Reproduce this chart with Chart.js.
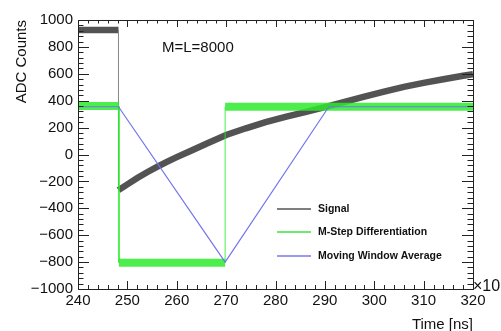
<!DOCTYPE html>
<html>
<head>
<meta charset="utf-8">
<script src="https://cdn.jsdelivr.net/npm/chart.js@4.4.1/dist/chart.umd.min.js"></script>
<style>
  html, body { margin: 0; padding: 0; background: #fff; }
  #wrap { width: 501px; height: 331px; }
</style>
</head>
<body>
<div id="wrap"><canvas id="chart" width="501" height="331"></canvas></div>
<script>
// time axis in units of 10^3 ns
const signalTime = [240, 248.2, 248.2, 250, 252, 254, 256, 258, 260, 263, 266, 270, 274, 278, 282, 286, 290, 294, 298, 302, 306, 310, 314, 318, 320];
const signalAdc  = [925, 925, -265, -222, -175, -132, -92, -55, -20, 30, 80, 145, 195, 240, 280, 315, 352, 392, 430, 468, 503, 533, 560, 585, 597];

const diffTime = [240, 248.3, 248.3, 269.8, 269.8, 320];
const diffAdc  = [360, 360, -805, -805, 355, 355];

const mwaTime = [240, 248.2, 269.8, 290.8, 320];
const mwaAdc  = [355, 355, -800, 355, 355];

const xTicks = [240, 250, 260, 270, 280, 290, 300, 310, 320];
const yTicks = [-1000, -800, -600, -400, -200, 0, 200, 400, 600, 800, 1000];

const FONT = "'Liberation Sans', Arial, Helvetica, sans-serif";

function pts(xs, ys) {
  return xs.map((x, i) => ({ x, y: ys[i] }));
}

// vertical jumps are thin, the noisy plateaus are wide bands
function bandWidth(wide) {
  return ctx => (ctx.p0.parsed.x === ctx.p1.parsed.x ? 1 : wide);
}

const rootFrame = {
  id: 'rootFrame',
  afterDatasetsDraw(chart) {
    const { ctx, chartArea: a, scales: { x, y } } = chart;
    ctx.save();
    ctx.strokeStyle = '#222';
    ctx.lineWidth = 1;
    ctx.strokeRect(Math.round(a.left) + 0.5, Math.round(a.top) + 0.5,
      Math.round(a.right - a.left), Math.round(a.bottom - a.top));

    ctx.beginPath();
    for (let v = 240; v <= 320; v += 2) {
      const px = Math.round(x.getPixelForValue(v)) + 0.5;
      const len = v % 10 === 0 ? 8 : 4;
      ctx.moveTo(px, a.bottom); ctx.lineTo(px, a.bottom - len);
      ctx.moveTo(px, a.top); ctx.lineTo(px, a.top + (v % 10 === 0 ? 7 : 3.5));
    }
    for (let v = -1000; v <= 1000; v += 40) {
      const py = Math.round(y.getPixelForValue(v)) + 0.5;
      const len = v % 200 === 0 ? 11 : 5.5;
      ctx.moveTo(a.left, py); ctx.lineTo(a.left + len, py);
      ctx.moveTo(a.right, py); ctx.lineTo(a.right - len, py);
    }
    ctx.stroke();

    // legend, no border
    const items = [
      ['Signal', '#555555'],
      ['M-Step Differentiation', '#3fe03f'],
      ['Moving Window Average', '#7878ee']
    ];
    const rows = [209, 232, 256];
    ctx.font = `bold 10.5px ${FONT}`;
    ctx.textBaseline = 'middle';
    ctx.textAlign = 'left';
    items.forEach(([label, color], i) => {
      ctx.strokeStyle = color;
      ctx.lineWidth = 1.5;
      ctx.beginPath();
      ctx.moveTo(277, rows[i]);
      ctx.lineTo(311, rows[i]);
      ctx.stroke();
      ctx.fillStyle = '#111';
      ctx.fillText(label, 318, rows[i]);
    });

    ctx.fillStyle = '#111';
    ctx.font = `15px ${FONT}`;
    ctx.fillText('M=L=8000', 162, 48);

    ctx.textBaseline = 'alphabetic';
    ctx.font = `16px ${FONT}`;
    ctx.fillText('\u00d710', 473, 291);
    ctx.font = `10px ${FONT}`;
    ctx.fillText('3', 502, 282);

    ctx.font = `15px ${FONT}`;
    ctx.textAlign = 'right';
    ctx.textBaseline = 'middle';
    ctx.fillText('Time [ns]', 473, 325);

    ctx.translate(22, 20);
    ctx.rotate(-Math.PI / 2);
    ctx.fillText('ADC Counts', 0, 0);
    ctx.restore();
  }
};

new Chart(document.getElementById('chart'), {
  type: 'line',
  data: {
    datasets: [
      {
        label: 'Signal',
        data: pts(signalTime, signalAdc),
        borderColor: 'rgba(40,40,40,0.8)',
        borderWidth: 6.5,
        segment: {
          borderWidth: bandWidth(6.5),
          borderColor: ctx => (ctx.p0.parsed.x === ctx.p1.parsed.x ? '#8a8a8a' : 'rgba(40,40,40,0.8)')
        },
        order: 3
      },
      {
        label: 'M-Step Differentiation',
        data: pts(diffTime, diffAdc),
        borderColor: 'rgba(45,235,45,0.85)',
        borderWidth: 8,
        segment: { borderWidth: bandWidth(8) },
        order: 2
      },
      {
        label: 'Moving Window Average',
        data: pts(mwaTime, mwaAdc),
        borderColor: '#7474ee',
        borderWidth: 1.2,
        order: 1
      }
    ]
  },
  options: {
    responsive: false,
    animation: false,
    events: [],
    layout: { padding: { top: 20, right: 28, left: 0, bottom: 0 } },
    elements: {
      point: { radius: 0 },
      line: { tension: 0, borderCapStyle: 'butt', borderJoinStyle: 'miter' }
    },
    plugins: { legend: { display: false }, tooltip: { enabled: false } },
    scales: {
      x: {
        type: 'linear',
        min: 240,
        max: 320,
        afterBuildTicks: s => { s.ticks = xTicks.map(value => ({ value })); },
        afterFit: s => { s.height = 42; },
        grid: { display: false, drawTicks: false },
        border: { display: false },
        ticks: { color: '#111', padding: 3, font: { family: FONT, size: 15 } }
      },
      y: {
        type: 'linear',
        min: -1000,
        max: 1000,
        afterBuildTicks: s => { s.ticks = yTicks.map(value => ({ value })); },
        afterFit: s => { s.width = 78; },
        grid: { display: false, drawTicks: false },
        border: { display: false },
        ticks: {
          color: '#111',
          padding: 5,
          font: { family: FONT, size: 15 },
          callback: v => String(v).replace('-', '\u2212')
        }
      }
    }
  },
  plugins: [rootFrame]
});
</script>
</body>
</html>
